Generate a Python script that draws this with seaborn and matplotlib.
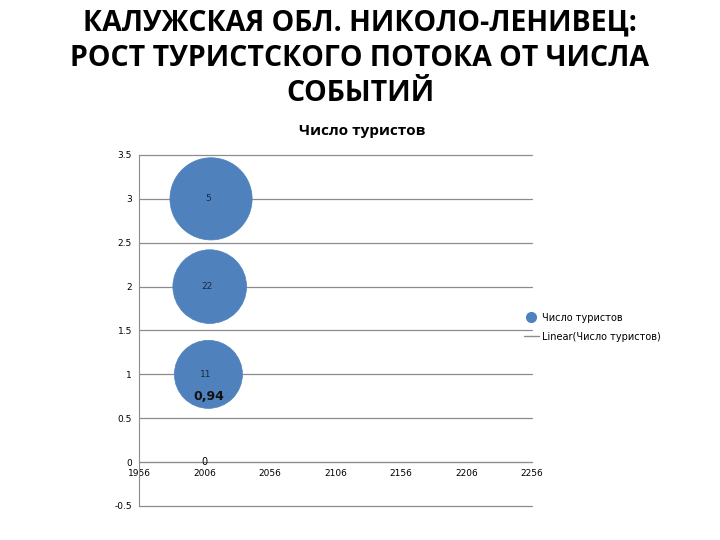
import matplotlib
matplotlib.use("Agg")
import matplotlib.pyplot as plt
from matplotlib.lines import Line2D
import numpy as np
import pandas as pd
import seaborn as sns

# Data
years = [2011, 2010, 2009]
events = [3, 2, 1]
tourists = [5, 22, 11]
bubble_area = [100, 80, 68]
zero_year, zero_events, zero_label = 2006, 0, "0"
r2_text = "0,94"
r2_pos = (2009, 0.75)

x_ticks = [1956, 2006, 2056, 2106, 2156, 2206, 2256]
y_ticks = [-0.5, 0, 0.5, 1, 1.5, 2, 2.5, 3, 3.5]
y_tick_labels = ["-0.5", "0", "0.5", "1", "1.5", "2", "2.5", "3", "3.5"]

title_lines = ["КАЛУЖСКАЯ ОБЛ. НИКОЛО-ЛЕНИВЕЦ:",
               "РОСТ ТУРИСТСКОГО ПОТОКА ОТ ЧИСЛА",
               "СОБЫТИЙ"]

df = pd.DataFrame({"year": years, "events": events,
                   "tourists": tourists, "area": bubble_area})

sns.set_style("white")
plt.rcParams['font.family'] = ['DejaVu Sans']
plt.rcParams['text.color'] = 'black'

fig = plt.figure(figsize=(7.2, 5.4), dpi=100)
ax = fig.add_axes([0.193, 0.063, 0.546, 0.650])

blue = "#4f81bd"
grid = "#8c8c8c"

sns.scatterplot(data=df, x="year", y="events", size="area",
                sizes=(2400, 3500), color=blue, edgecolor=blue,
                linewidth=0.5, legend=False, ax=ax, zorder=3)

# labels inside the bubbles
for x, y, t in zip(years, events, tourists):
    ax.text(x - 2, y, str(t), ha="center", va="center", fontsize=6.5,
            color="#1a2a40", zorder=4)
ax.text(zero_year, zero_events, zero_label, ha="center", va="center",
        fontsize=7, color="black", zorder=4)
ax.text(r2_pos[0], r2_pos[1], r2_text, ha="center", va="center",
        fontsize=9, fontweight="bold", color="#111111", zorder=4)

ax.set_xlim(x_ticks[0], x_ticks[-1])
ax.set_ylim(y_ticks[0], y_ticks[-1])
ax.set_yticks(y_ticks)
ax.set_yticklabels(y_tick_labels)
ax.set_xticks(x_ticks)
ax.set_xticklabels([str(v) for v in x_ticks])
for yv in y_ticks:
    ax.axhline(yv, color=grid, lw=0.9, zorder=1, clip_on=False)

for s in ["top", "right"]:
    ax.spines[s].set_visible(False)
ax.spines["left"].set_color(grid)
ax.spines["bottom"].set_position(("data", 0))
ax.spines["bottom"].set_color(grid)
ax.tick_params(axis="both", labelsize=6.5, labelcolor="black", length=3,
               color=grid, direction="inout")
ax.set_xlabel("")
ax.set_ylabel("")

for i, line in enumerate(title_lines):
    fig.text(0.5, 1 - (23 + 35 * i) / 540, line, ha="center", va="center",
             fontsize=20.5, fontweight="bold", family="Open Sans")
fig.text(0.503, 0.758, "Число туристов", ha="center", va="center",
         fontsize=11, fontweight="bold", family="Open Sans")

handles = [Line2D([0], [0], marker="o", ls="", color=blue, markersize=7),
           Line2D([0], [0], color=grid, lw=1)]
fig.legend(handles, ["Число туристов", "Linear(Число туристов)"],
           loc="center left", bbox_to_anchor=(0.715, 0.394), frameon=False,
           fontsize=7, handlelength=1.6, handletextpad=0.3, labelspacing=0.9)

fig.savefig("out.png", dpi=100)
